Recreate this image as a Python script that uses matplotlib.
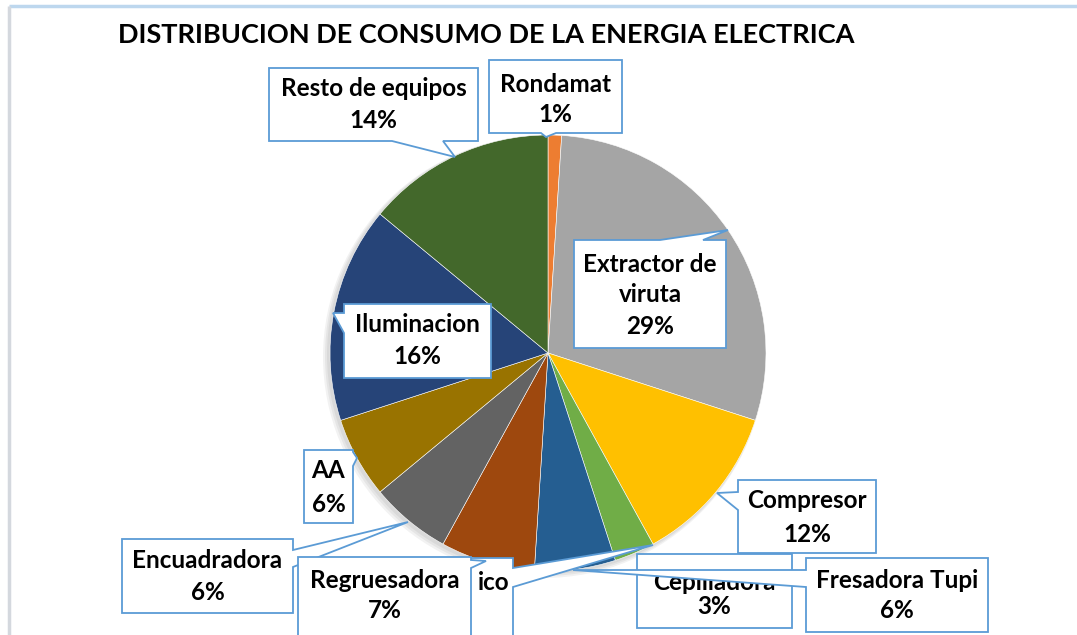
import matplotlib
matplotlib.use("Agg")
import matplotlib.pyplot as plt
from matplotlib.patches import Polygon, Circle
from matplotlib import font_manager

# ---------------- data ----------------
labels = ["Rondamat", "Extractor de viruta", "Compresor", "Cepilladora",
          "Fresadora Tupi", "Regruesadora", "Encuadradora", "AA",
          "Iluminacion", "Resto de equipos"]
values = [1, 29, 12, 3, 6, 7, 6, 6, 16, 14]
colors = ["#ED7D31", "#A5A5A5", "#FFC000", "#70AD47", "#255E91",
          "#9E480E", "#636363", "#997300", "#264478", "#43682B"]
title = "DISTRIBUCION DE CONSUMO DE LA ENERGIA ELECTRICA"

# ---------------- layout (image pixel coords) ----------------
W, H = 1077, 635
fig = plt.figure(figsize=(W / 100, H / 100), dpi=100)
ax = fig.add_axes([0, 0, 1, 1])

names = [f.name for f in font_manager.fontManager.ttflist]
FONT = "Lato" if "Lato" in names else "DejaVu Sans"
TFONT = FONT

cx, cy, R = 548, 353, 218
# soft shadow
for i, a in enumerate([0.05, 0.05, 0.05]):
    ax.add_patch(Circle((cx - 2 - i, cy + 2 + i), R + 1 + i, color="black",
                        alpha=a, lw=0, zorder=0.5))

ax.pie(values, colors=colors, startangle=-90, counterclock=True,
       center=(cx, cy), radius=R,
       wedgeprops=dict(edgecolor="#FFFFFF", linewidth=0.4))

EDGE = "#5B9BD5"


def callout(rect, side, b, tip, z):
    x0, y0, x1, y1 = rect
    b1, b2 = b
    tx, ty = tip
    pts = [(x0, y0)]
    if side == "top":
        pts += [(b1, y0), (tx, ty), (b2, y0)]
    pts.append((x1, y0))
    if side == "right":
        pts += [(x1, b1), (tx, ty), (x1, b2)]
    pts.append((x1, y1))
    if side == "bottom":
        pts += [(b2, y1), (tx, ty), (b1, y1)]
    pts.append((x0, y1))
    if side == "left":
        pts += [(x0, b2), (tx, ty), (x0, b1)]
    ax.add_patch(Polygon(pts, closed=True, facecolor="white", edgecolor=EDGE,
                         linewidth=1.3, zorder=z, joinstyle="miter"))


FS = 17.5
specs = {
    "Resto de equipos": ((269, 68, 478, 141), "bottom", (392, 443), (455, 157), ["Resto de equipos"], [89, 121], 2),
    "Rondamat": ((489, 60, 622, 133), "bottom", (541, 556), (546, 137), ["Rondamat"], [84, 115], 3),
    "Extractor de viruta": ((574, 240, 726, 348), "top", (660, 703), (728, 230), ["Extractor de", "viruta"], [264, 295, 327], 4),
    "Iluminacion": ((344, 304, 491, 378), "left", (313, 333), (333, 313), ["Iluminacion"], [325, 357], 5),
    "AA": ((304, 450, 353, 523), "right", (452, 466), (357, 458), ["AA"], [471, 504], 6),
    "Compresor": ((738, 480, 876, 553), "left", (492, 510), (717, 493), ["Compresor"], [501, 534], 7),
    "Encuadradora": ((122, 539, 293, 613), "right", (550, 567), (408, 522), ["Encuadradora"], [561, 593], 8),
    "Regruesadora": ((298, 557, 471, 640), "right", (560, 568), (486, 561), ["Regruesadora"], [581, 611], 10),
    "Cepilladora": ((637, 554, 792, 628), None, (0, 0), (0, 0), ["Cepilladora"], [582, 607], 11),
    "Fresadora Tupi": ((806, 558, 988, 632), "left", (570, 587), (573, 570), ["Fresadora Tupi"], [580, 611], 12),
}

# partially hidden extra label box (under Regruesadora)
callout((430, 558, 513, 640), "right", (568, 587), (653, 545), 9)
ax.text(494, 582, "ico", ha="center", va="center", fontsize=FS,
        fontweight="bold", family=FONT, zorder=9.5)

for lab, val in zip(labels, values):
    rect, side, b, tip, lines, ys, z = specs[lab]
    if side is None:
        x0, y0, x1, y1 = rect
        ax.add_patch(Polygon([(x0, y0), (x1, y0), (x1, y1), (x0, y1)], closed=True,
                             facecolor="white", edgecolor=EDGE, linewidth=1.3, zorder=z))
    else:
        callout(rect, side, b, tip, z)
    xc = (rect[0] + rect[2]) / 2
    for t, y in zip(lines + [f"{val}%"], ys):
        ax.text(xc, y, t, ha="center", va="center", fontsize=FS,
                fontweight="bold", family=FONT, zorder=z + 0.5)

# title
tt = ax.text(118, 35, title, ha="left", va="center", fontsize=20,
             fontweight="bold", family=TFONT, zorder=20)
fig.canvas.draw()
bb = tt.get_window_extent()
tt.set_fontsize(20 * 740 / bb.width)

# frame
ax.plot([9, W], [6, 6], color="#BDD7EE", lw=2.5, zorder=1, solid_capstyle="butt")
ax.plot([9, 9], [6, H], color="#D4D8DE", lw=2.5, zorder=1, solid_capstyle="butt")

ax.set_xlim(0, W)
ax.set_ylim(H, 0)
ax.set_aspect("auto")
ax.axis("off")
fig.savefig("out.png", dpi=100, facecolor="white")
